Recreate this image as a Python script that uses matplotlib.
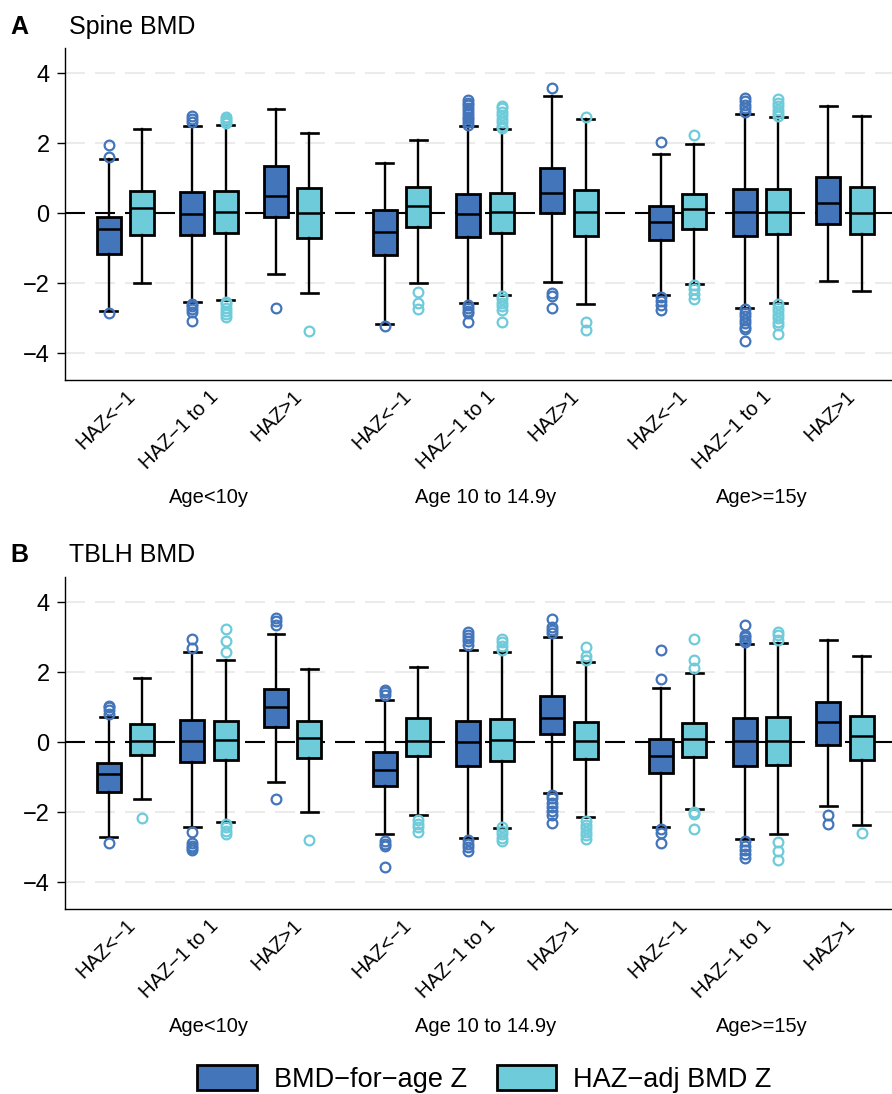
import matplotlib
matplotlib.use("Agg")
import matplotlib.pyplot as plt
from matplotlib.patches import Patch

plt.rcParams['font.family'] = ['Liberation Sans', 'DejaVu Sans']

DARK = '#4375BB'
LIGHT = '#6DCBDA'

haz_labels = ['HAZ<\u22121', 'HAZ\u22121 to 1', 'HAZ>1'] * 3
age_labels = ['Age<10y', 'Age 10 to 14.9y', 'Age>=15y']
series_labels = ['BMD\u2212for\u2212age Z', 'HAZ\u2212adj BMD Z']
panel_titles = ['Spine BMD', 'TBLH BMD']
panel_letters = ['A', 'B']

# box order: age group -> HAZ group -> (BMD-for-age, HAZ-adj)
# ---- Spine BMD ----
spine_q1 = [-1.16, -0.61, -0.62, -0.57, -0.10, -0.70,
            -1.19, -0.39, -0.67, -0.55, 0.00, -0.65,
            -0.77, -0.44, -0.64, -0.59, -0.30, -0.58]
spine_med = [-0.46, 0.15, -0.01, 0.04, 0.50, 0.00,
             -0.54, 0.21, -0.03, 0.04, 0.57, 0.05,
             -0.25, 0.11, 0.03, 0.04, 0.29, 0.00]
spine_q3 = [-0.095, 0.64, 0.62, 0.63, 1.35, 0.72,
            0.10, 0.74, 0.55, 0.59, 1.30, 0.67,
            0.20, 0.55, 0.70, 0.70, 1.03, 0.76]
spine_lo = [-2.79, -1.99, -2.54, -2.47, -1.73, -2.29,
            -3.15, -1.99, -2.56, -2.34, -1.96, -2.59,
            -2.34, -2.02, -2.69, -2.55, -1.92, -2.23]
spine_hi = [1.56, 2.41, 2.50, 2.52, 2.98, 2.30,
            1.43, 2.10, 2.48, 2.40, 3.35, 2.70,
            1.70, 1.98, 2.83, 2.74, 3.05, 2.79]
spine_fliers = [
    [1.96, 1.60, -2.86],
    [],
    [2.78, 2.70, 2.62, -2.58, -2.66, -2.74, -2.82, -3.07],
    [2.76, 2.70, 2.64, 2.58, -2.52, -2.60, -2.70, -2.80, -2.88, -2.97],
    [-2.69],
    [-3.35],
    [-3.22],
    [-2.24, -2.55, -2.74],
    [3.24, 3.16, 3.08, 3.00, 2.92, 2.84, 2.76, 2.68, 2.60, 2.52,
     -2.62, -2.70, -2.78, -2.86, -3.10],
    [3.07, 3.00, 2.90, 2.80, 2.70, 2.60, 2.50, 2.43,
     -2.36, -2.45, -2.55, -2.65, -2.76, -3.10],
    [3.59, -2.27, -2.36, -2.70],
    [2.76, -3.10, -3.33],
    [2.03, -2.38, -2.50, -2.62, -2.76],
    [2.25, -2.06, -2.16, -2.30, -2.45],
    [3.29, 3.20, 3.10, 3.00, 2.90,
     -2.74, -2.84, -2.94, -3.04, -3.14, -3.24, -3.30, -3.64],
    [3.26, 3.16, 3.06, 2.96, 2.86, 2.78,
     -2.60, -2.70, -2.80, -2.90, -3.00, -3.10, -3.20, -3.46],
    [],
    [],
]

# ---- TBLH BMD ----
tblh_q1 = [-1.43, -0.36, -0.57, -0.50, 0.45, -0.46,
           -1.26, -0.38, -0.69, -0.54, 0.24, -0.48,
           -0.89, -0.41, -0.67, -0.64, -0.09, -0.51]
tblh_med = [-0.91, 0.05, 0.03, 0.07, 1.00, 0.12,
            -0.78, 0.05, 0.01, 0.06, 0.69, 0.03,
            -0.39, 0.08, 0.04, 0.03, 0.59, 0.18]
tblh_q3 = [-0.60, 0.53, 0.65, 0.62, 1.52, 0.62,
           -0.29, 0.69, 0.62, 0.66, 1.31, 0.59,
           0.10, 0.55, 0.69, 0.71, 1.14, 0.76]
tblh_lo = [-2.71, -1.62, -2.42, -2.28, -1.14, -1.99,
           -2.61, -2.08, -2.74, -2.44, -1.46, -2.12,
           -2.42, -1.91, -2.77, -2.63, -1.83, -2.36]
tblh_hi = [0.73, 1.85, 2.59, 2.36, 3.10, 2.10,
           1.22, 2.16, 2.64, 2.57, 3.00, 2.30,
           1.54, 1.98, 2.82, 2.83, 2.92, 2.46]
tblh_fliers = [
    [1.05, 1.00, 0.93, 0.80, -2.88],
    [-2.17],
    [2.96, 2.68, -2.55, -2.87, -2.95, -3.03, -3.08],
    [3.23, 2.89, 2.57, -2.32, -2.42, -2.52, -2.63],
    [3.55, 3.45, 3.36, -1.62],
    [-2.79],
    [1.50, 1.43, 1.36, -2.82, -2.90, -2.95, -3.56],
    [-2.23, -2.33, -2.43, -2.56],
    [3.14, 3.06, 2.98, 2.88, 2.78, -2.80, -2.90, -3.00, -3.10],
    [2.96, 2.85, 2.75, 2.64, -2.42, -2.52, -2.62, -2.72, -2.82],
    [3.53, 3.30, 3.21, 3.12, -1.50, -1.60, -1.72, -1.84, -1.96, -2.08, -2.30],
    [2.71, 2.45, 2.36, -2.26, -2.36, -2.46, -2.56, -2.66, -2.76],
    [2.63, 1.80, -2.47, -2.59, -2.87],
    [2.94, 2.35, 2.12, -1.98, -2.06, -2.47],
    [3.34, 3.07, 3.00, 2.93, 2.86, -2.82, -2.95, -3.08, -3.20, -3.30],
    [3.15, 3.05, 2.93, -2.84, -3.09, -3.36],
    [-2.08, -2.33],
    [-2.60],
]

panels = [
    (spine_q1, spine_med, spine_q3, spine_lo, spine_hi, spine_fliers),
    (tblh_q1, tblh_med, tblh_q3, tblh_lo, tblh_hi, tblh_fliers),
]

# x positions of the HAZ groups (gap between age groups)
group_pos = [0, 1, 2, 3.3, 4.3, 5.3, 6.6, 7.6, 8.6]
dodge = 0.2
dash = (0, (9.6, 4.8))

fig = plt.figure(figsize=(8.92, 10.94), dpi=100)
ax_left = 65 / 892
ax_h = 332 / 1094
bottoms = [1 - 380 / 1094, 1 - 909 / 1094]

for k, (q1, med, q3, lo, hi, fl) in enumerate(panels):
    ax = fig.add_axes([ax_left, bottoms[k], 1 - ax_left, ax_h])
    for yv in [-4, -2, 2, 4]:
        ax.axhline(yv, color='#EBEBEB', lw=1.5, ls=dash, zorder=0)
    ax.axhline(0, color='black', lw=1.5, ls=dash, zorder=1)

    for s, col in enumerate([DARK, LIGHT]):
        stats = []
        for i in range(len(group_pos)):
            j = 2 * i + s
            stats.append(dict(q1=q1[j], med=med[j], q3=q3[j],
                              whislo=lo[j], whishi=hi[j], fliers=fl[j]))
        pos = [p + (-dodge if s == 0 else dodge) for p in group_pos]
        ax.bxp(stats, positions=pos, widths=0.287, capwidths=0.2,
               patch_artist=True, manage_ticks=False,
               boxprops=dict(facecolor=col, edgecolor='black', linewidth=2),
               medianprops=dict(color='black', linewidth=1.8),
               whiskerprops=dict(color='black', linewidth=1.7),
               capprops=dict(color='black', linewidth=1.9),
               flierprops=dict(marker='o', markerfacecolor='none',
                               markeredgecolor=col, markersize=7,
                               markeredgewidth=1.6),
               zorder=3)

    ax.set_xlim(-0.72, 9.16)
    ax.set_ylim(-4.76, 4.72)
    ax.set_yticks([-4, -2, 0, 2, 4])
    ax.set_yticklabels(['\u22124', '\u22122', '0', '2', '4'])
    ax.tick_params(axis='y', labelsize=17, length=6, width=1, pad=5)
    ax.set_xticks(group_pos)
    ax.set_xticklabels(haz_labels, rotation=45, ha='right', va='top',
                       rotation_mode='anchor', fontsize=14.5)
    ax.tick_params(axis='x', length=0, pad=5)
    for side in ['top', 'right']:
        ax.spines[side].set_visible(False)
    ax.spines['left'].set_linewidth(1)
    ax.spines['bottom'].set_linewidth(1)

    for g, lab in enumerate(age_labels):
        ax.text(group_pos[3 * g + 1], -0.355, lab, fontsize=14.5,
                ha='center', va='center', transform=ax.get_xaxis_transform())

    top_px = [27, 555][k]
    fig.text(10 / 892, 1 - top_px / 1094, panel_letters[k], fontsize=18,
             fontweight='bold', va='center', ha='left')
    fig.text(69 / 892, 1 - top_px / 1094, panel_titles[k], fontsize=18,
             va='center', ha='left')

handles = [Patch(facecolor=DARK, edgecolor='black', linewidth=2),
           Patch(facecolor=LIGHT, edgecolor='black', linewidth=2)]
fig.legend(handles, series_labels, loc='center', ncol=2,
           bbox_to_anchor=(0.543, 1 - 1079 / 1094), frameon=False,
           fontsize=19.5, handlelength=2.2, handleheight=1.05,
           handletextpad=0.63, columnspacing=1.1, borderpad=0)

fig.savefig('out.png', dpi=100)
